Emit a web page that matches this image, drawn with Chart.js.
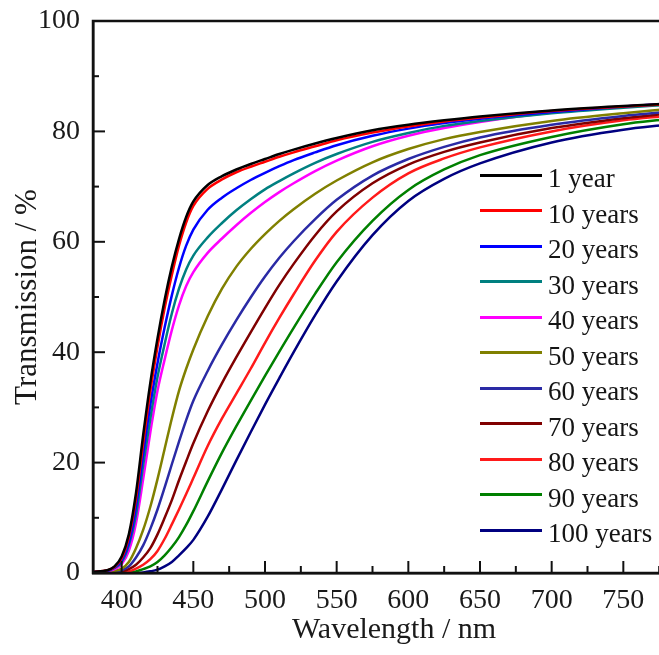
<!DOCTYPE html>
<html>
<head>
<meta charset="utf-8">
<title>Transmission vs wavelength</title>
<script src="https://cdn.jsdelivr.net/npm/chart.js@4.4.1/dist/chart.umd.min.js"></script>
<style>
  html, body { margin: 0; padding: 0; background: #fff; overflow: hidden; }
  #wrap { position: relative; width: 700px; height: 655px; }
  #legend { position: absolute; left: 0; top: 0; width: 700px; height: 655px; pointer-events: none; }
  .row {
    position: absolute; left: 480px; height: 36px; line-height: 36px;
    display: flex; align-items: center;
    font-family: "Liberation Serif", "Times New Roman", serif; font-size: 27px; color: #151515;
    white-space: nowrap;
  }
  .swatch { display: inline-block; width: 62px; height: 0; border-top: 3px solid; margin-right: 6px; transform: translateY(-3px); }
</style>
</head>
<body>
<div id="wrap">
  <canvas id="grafico"></canvas>
  <div id="legend"></div>
</div>
<script>
// comprimento de onda (nm)
const wavelengths = [380, 390, 395, 400, 405, 410, 415, 420, 425, 430, 435, 440, 445, 450, 460, 470, 480, 490, 500, 510, 520, 535, 550, 575, 600, 625, 650, 700, 750, 780];

// transmissão (%) por idade
const year1   = [0.2, 0.5, 1.2, 3.0, 7.0, 14.5, 25.0, 34.5, 42.5, 49.5, 55.5, 60.5, 64.5, 67.3, 70.3, 71.9, 73.1, 74.1, 75.0, 75.9, 76.7, 77.8, 78.8, 80.2, 81.2, 82.0, 82.7, 83.8, 84.6, 85.0];
const year10  = [0.2, 0.5, 1.1, 2.7, 6.5, 13.5, 23.5, 33.0, 41.0, 48.0, 54.0, 59.3, 63.5, 66.5, 69.6, 71.3, 72.6, 73.6, 74.5, 75.4, 76.2, 77.3, 78.4, 79.8, 80.9, 81.8, 82.5, 83.7, 84.5, 84.9];
const year20  = [0.2, 0.4, 1.0, 2.3, 5.5, 12.0, 21.5, 30.5, 38.0, 44.5, 50.3, 55.3, 59.3, 62.2, 65.8, 68.0, 69.7, 71.2, 72.5, 73.7, 74.8, 76.2, 77.5, 79.2, 80.5, 81.5, 82.3, 83.5, 84.5, 85.0];
const year30  = [0.2, 0.4, 0.9, 2.0, 5.0, 10.5, 19.5, 28.0, 35.5, 41.5, 47.0, 51.5, 55.0, 57.5, 60.8, 63.4, 65.7, 67.7, 69.5, 71.0, 72.4, 74.3, 75.9, 78.1, 79.7, 81.0, 81.9, 83.3, 84.3, 84.8];
const year40  = [0.1, 0.3, 0.7, 1.6, 4.0, 9.0, 17.0, 25.5, 33.0, 38.7, 44.0, 48.5, 52.0, 54.5, 58.0, 60.6, 63.0, 65.2, 67.2, 69.0, 70.6, 72.8, 74.7, 77.3, 79.2, 80.6, 81.7, 83.4, 84.5, 85.0];
const year50  = [0.0, 0.2, 0.4, 0.8, 2.0, 4.5, 7.8, 12.0, 17.0, 22.5, 28.0, 33.0, 37.0, 40.5, 46.5, 51.5, 55.5, 58.7, 61.4, 63.8, 65.9, 68.7, 71.1, 74.4, 76.8, 78.6, 79.9, 81.9, 83.3, 84.0];
const year60  = [0.0, 0.1, 0.3, 0.5, 1.2, 2.8, 5.0, 8.0, 11.5, 15.5, 19.7, 23.8, 27.7, 31.2, 36.6, 41.4, 45.8, 49.9, 53.7, 57.1, 60.1, 64.1, 67.6, 72.0, 75.0, 77.2, 78.9, 81.2, 82.8, 83.5];
const year70  = [0.0, 0.0, 0.1, 0.3, 0.7, 1.5, 2.8, 4.5, 7.0, 10.0, 13.2, 16.8, 20.2, 23.5, 29.3, 34.4, 39.1, 43.6, 48.0, 52.2, 56.0, 61.2, 65.5, 70.6, 74.0, 76.3, 78.0, 80.6, 82.4, 83.2];
const year80  = [0.0, 0.0, 0.0, 0.1, 0.3, 0.8, 1.5, 2.5, 4.0, 6.2, 8.8, 11.5, 14.3, 17.2, 23.0, 28.0, 32.5, 37.0, 41.7, 46.2, 50.5, 56.6, 61.8, 68.0, 72.4, 75.1, 77.1, 80.0, 82.0, 82.8];
const year90  = [0.0, 0.0, 0.0, 0.0, 0.1, 0.3, 0.7, 1.2, 2.0, 3.2, 4.7, 6.5, 8.7, 11.2, 16.6, 21.8, 26.6, 31.2, 35.7, 40.1, 44.4, 50.6, 56.3, 63.8, 69.4, 73.1, 75.7, 79.0, 81.3, 82.2];
const year100 = [0.0, 0.0, 0.0, 0.0, 0.0, 0.0, 0.1, 0.3, 0.6, 1.2, 2.0, 3.2, 4.5, 6.0, 10.2, 15.2, 20.4, 25.5, 30.5, 35.3, 40.0, 46.7, 52.8, 61.2, 67.4, 71.4, 74.2, 78.0, 80.3, 81.2];

const seriesLabels = ['1 year', '10 years', '20 years', '30 years', '40 years', '50 years', '60 years', '70 years', '80 years', '90 years', '100 years'];
const seriesValues = [year1, year10, year20, year30, year40, year50, year60, year70, year80, year90, year100];
const seriesColors = ['#000000', '#ff0000', '#0000ff', '#008080', '#ff00ff', '#808000', '#2a2aa5', '#800000', '#ff1a1a', '#008000', '#000080'];

// marcas dos eixos
const xTicks = [400, 450, 500, 550, 600, 650, 700, 750];
const xMinor = [425, 475, 525, 575, 625, 675, 725, 775];
const yTicks = [0, 20, 40, 60, 80, 100];
const yMinor = [10, 30, 50, 70, 90];

const serif = '"Liberation Serif", "Times New Roman", serif';

const datasets = seriesLabels.map((label, i) => ({
  label: label,
  data: wavelengths.map((w, j) => ({ x: w, y: seriesValues[i][j] })),
  borderColor: seriesColors[i],
  borderWidth: 2.5,
  pointRadius: 0,
  cubicInterpolationMode: 'monotone',
  fill: false
}));

/* moldura e tracinhos para dentro */
const molduraPlugin = {
  id: 'moldura',
  afterDraw(chart) {
    const { ctx, chartArea: a, scales: { x, y } } = chart;
    ctx.save();
    ctx.strokeStyle = '#111';
    ctx.lineWidth = 2;
    const tickX = (vals, len) => vals.forEach(v => {
      const px = x.getPixelForValue(v);
      ctx.beginPath(); ctx.moveTo(px, a.bottom); ctx.lineTo(px, a.bottom - len); ctx.stroke();
    });
    const tickY = (vals, len) => vals.forEach(v => {
      const py = y.getPixelForValue(v);
      ctx.beginPath(); ctx.moveTo(a.left, py); ctx.lineTo(a.left + len, py); ctx.stroke();
    });
    tickX(xTicks, 12); tickX(xMinor, 7);
    tickY(yTicks, 12); tickY(yMinor, 6);
    ctx.lineWidth = 2.5;
    ctx.strokeRect(a.left, a.top, a.right - a.left, a.bottom - a.top);
    ctx.restore();
  }
};

const ctx = document.getElementById('grafico').getContext('2d');
const grafico = new Chart(ctx, {
  type: 'line',
  data: { datasets: datasets },
  options: {
    responsive: true,
    maintainAspectRatio: false,
    animation: false,
    layout: { padding: { top: 21, right: 5, bottom: 0, left: 0 } },
    plugins: { legend: { display: false }, tooltip: { enabled: false } },
    scales: {
      x: {
        type: 'linear',
        min: 380,
        max: 800,
        afterBuildTicks: s => { s.ticks = xTicks.map(v => ({ value: v })); },
        afterFit: s => { s.height = 82; s.paddingLeft = 0; s.paddingRight = 0; },
        grid: { display: false, drawTicks: false },
        border: { display: true, color: '#111', width: 2.5 },
        ticks: { padding: 11, color: '#1a1a1a', font: { family: serif, size: 28 }, maxRotation: 0 },
        title: { display: true, text: 'Wavelength / nm', color: '#1a1a1a', font: { family: serif, size: 30 }, padding: { top: 0, bottom: 7 } }
      },
      y: {
        min: 0,
        max: 100,
        afterBuildTicks: s => { s.ticks = yTicks.map(v => ({ value: v })); },
        afterFit: s => { s.width = 93; s.paddingTop = 0; s.paddingBottom = 0; },
        grid: { display: false, drawTicks: false },
        border: { display: true, color: '#111', width: 2.5 },
        ticks: { padding: 13, color: '#1a1a1a', font: { family: serif, size: 28 } },
        title: { display: true, text: 'Transmission / %', color: '#1a1a1a', font: { family: serif, size: 31 }, padding: { top: 9, bottom: 0 } }
      }
    }
  },
  plugins: [molduraPlugin]
});

/* legenda em HTML */
const legendBox = document.getElementById('legend');
seriesLabels.forEach((label, i) => {
  const row = document.createElement('div');
  row.className = 'row';
  row.style.top = (178 + i * 35.5 - 18) + 'px';
  const sw = document.createElement('span');
  sw.className = 'swatch';
  sw.style.borderTopColor = seriesColors[i];
  row.appendChild(sw);
  row.appendChild(document.createTextNode(label));
  legendBox.appendChild(row);
});
</script>
</body>
</html>
